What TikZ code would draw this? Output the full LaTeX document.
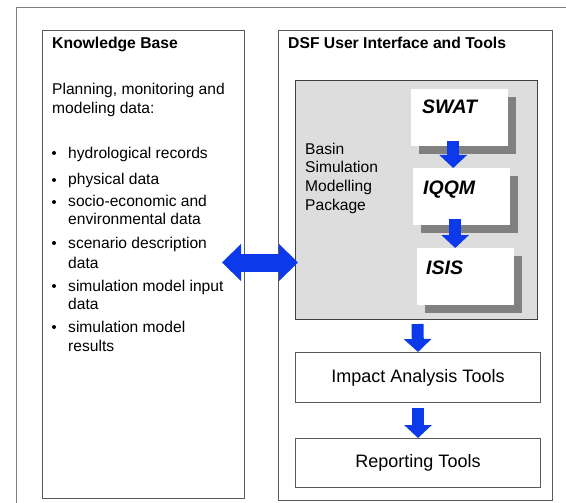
\documentclass[tikz,border=0pt]{standalone}
\usepackage{fontspec}
\setmainfont{Liberation Sans}
\usetikzlibrary{arrows.meta, shadows}

\definecolor{dsfblue}{RGB}{12,58,235}
\definecolor{pkggray}{RGB}{221,221,221}
\definecolor{shadowgray}{RGB}{128,128,128}
\definecolor{linegray}{RGB}{90,90,90}

\begin{document}
\begin{tikzpicture}[x=1pt, y=-1pt,
    box/.style={draw=linegray, line width=1pt, anchor=north west, inner sep=0pt},
    modelbox/.style={fill=white, anchor=north west, inner sep=0pt,
      minimum width=97pt, minimum height=57pt,
      drop shadow={shadow xshift=8pt, shadow yshift=-8pt, fill=shadowgray, opacity=1}},
    head/.style={font=\bfseries\fontsize{15.7}{18}\selectfont, anchor=base west, inner sep=0pt},
    body/.style={font=\fontsize{15.6}{18.5}\selectfont, anchor=base west, inner sep=0pt},
    model/.style={font=\bfseries\itshape\fontsize{19.5}{22}\selectfont, anchor=base west, inner sep=0pt},
    tool/.style={font=\fontsize{18}{21}\selectfont},
    blockarrow/.style={dsfblue, line width=12pt, -{Triangle[width=27pt,length=13pt]}},
    bigarrow/.style={dsfblue, line width=18pt,
      {Triangle[width=36pt,length=19pt]}-{Triangle[width=36pt,length=19pt]}}]
    \useasboundingbox (0,0) rectangle (566,503);
    \draw[gray, line width=1pt] (16,8) rectangle (600,540);

    % the two columns
    \node[box, minimum width=202pt, minimum height=468pt] (kb) at (42,30) {};
    \node[box, minimum width=274pt, minimum height=470pt] (dsf) at (278,30) {};
    \node[head] (kbtitle) at (52,49) {Knowledge Base};
    \node[head] (dsftitle) at (288,49) {DSF User Interface and Tools};

    % knowledge base contents
    \node[body] (intro1) at (52,95) {Planning, monitoring and};
    \node[body] (intro2) at (52,114) {modeling data:};
    \foreach \y/\t [count=\i] in {158/hydrological records, 185/physical data,
        207/socio-economic and, 225/environmental data, 248/scenario description,
        268/data, 291/simulation model input, 309/data, 332/simulation model,
        351/results}
      \node[body] (item\i) at (68,\y) {\t};
    \foreach \y in {158,185,207,248,291,332}
      \fill (54,\y-5) circle (2pt);

    % simulation package
    \node[box, draw=black!75, fill=pkggray, minimum width=242pt, minimum height=239pt] (pkg) at (295,80) {};
    \foreach \y/\t [count=\i] in {155/Basin, 173/Simulation, 192/Modelling, 211/Package}
      \node[body] (pkgline\i) at (305,\y) {\t};
    \node[modelbox] (swat) at (411,89) {};
    \node[modelbox] (iqqm) at (413,168) {};
    \node[modelbox] (isis) at (417,248) {};
    \node[model] (swattext) at (422,114) {SWAT};
    \node[model] (iqqmtext) at (423,195) {IQQM};
    \node[model] (isistext) at (426,274) {ISIS};

    % tools
    \node[box, tool, minimum width=245pt, minimum height=50pt] (impact) at (295,352) {Impact Analysis Tools};
    \node[box, tool, minimum width=245pt, minimum height=49pt] (report) at (295,438) {Reporting Tools};

    % arrows
    \draw[blockarrow] ([shift={(-6.5pt,5pt)}]swat.south) -- ([xshift=-8.5pt]iqqm.north);
    \draw[blockarrow] ([shift={(-6.5pt,6pt)}]iqqm.south) -- ([xshift=-10.5pt]isis.north);
    \draw[blockarrow] ([shift={(1pt,-4pt)}]pkg.south) -- (impact.north);
    \draw[blockarrow] ([yshift=-5pt]impact.south) -- (report.north);
    \coordinate (dl) at ([shift={(-23pt,2pt)}]kb.east);
    \coordinate (dr) at (dl -| pkg.west);
    \draw[bigarrow] (dl) -- ([xshift=3pt]dr);
\end{tikzpicture}
\end{document}
